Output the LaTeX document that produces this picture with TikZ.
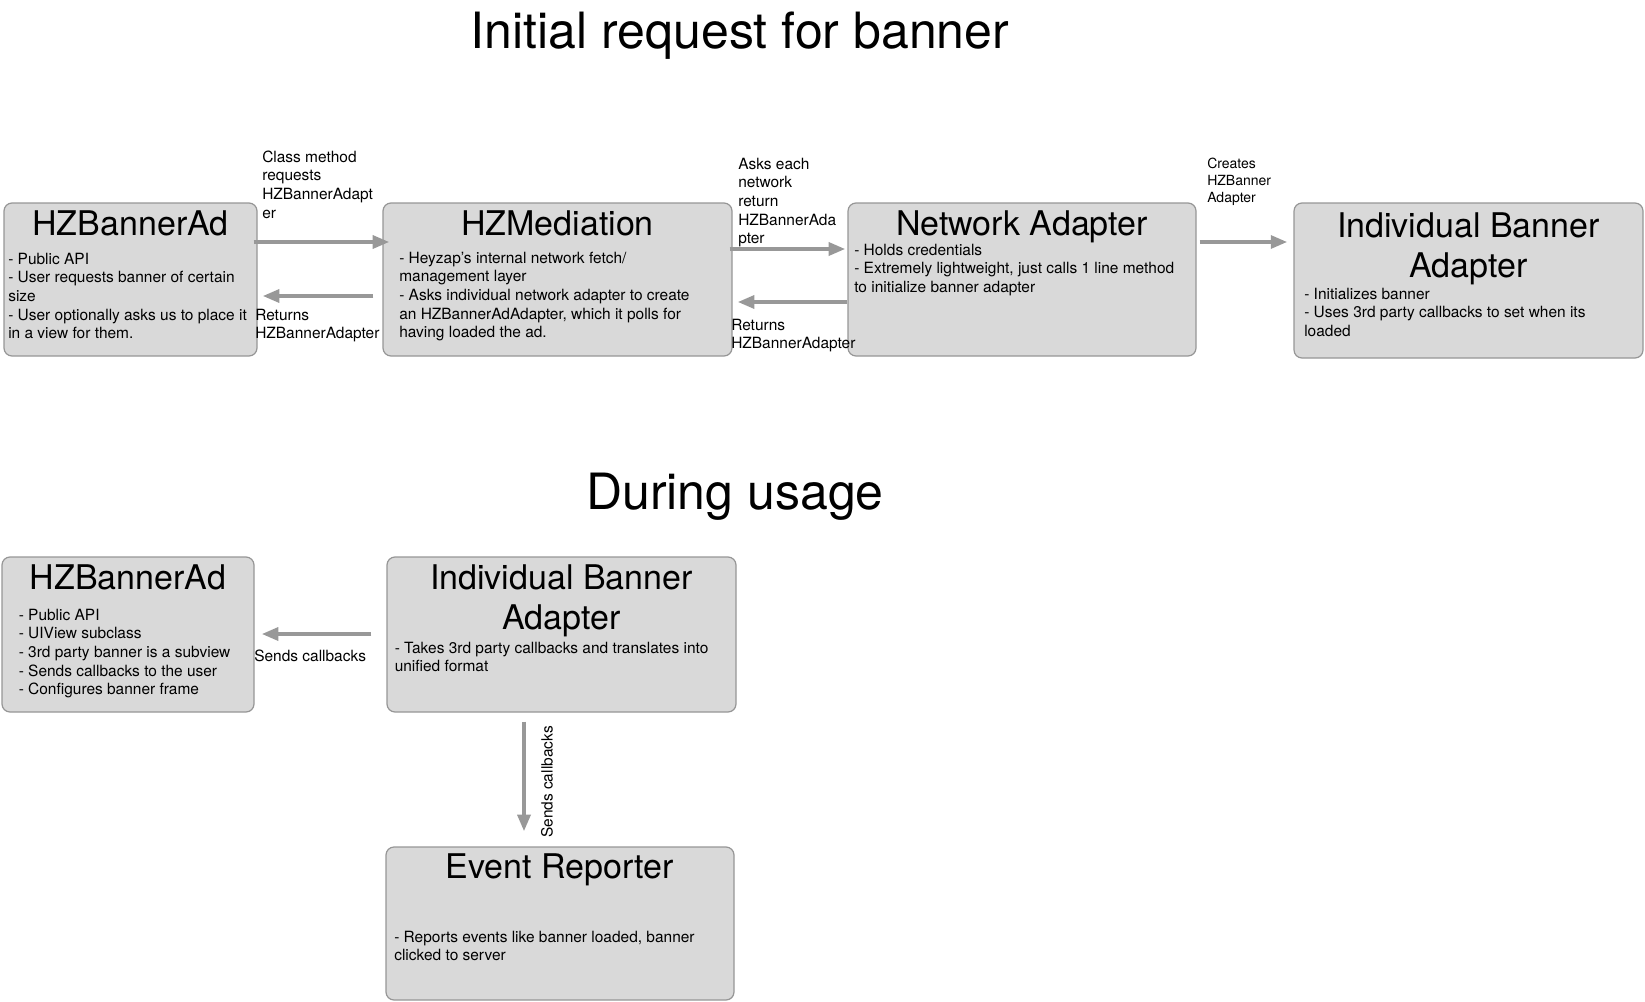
\documentclass[tikz,border=0pt]{standalone}
\usepackage{fontspec}
\setmainfont{TeX Gyre Heros}
\usetikzlibrary{arrows.meta,fit}
\definecolor{boxfill}{RGB}{217,217,217}
\definecolor{boxline}{RGB}{150,150,150}
\definecolor{arrowgray}{RGB}{152,152,152}
\newcommand\fstrut{\rule{0pt}{10pt}}
\newcommand\tstrut{\rule{0pt}{20pt}}
\begin{document}
\begin{tikzpicture}[x=0.75pt,y=-0.75pt,
  box/.style={draw=boxline, fill=boxfill, line width=0.9pt, rounded corners=6pt, inner sep=0pt},
  boxtitle/.style={font=\fontsize{25.5}{30.5}\selectfont, inner sep=0pt, align=center},
  bodytext/.style={font=\fontsize{11.6}{13.95}\selectfont, inner sep=0pt, align=left, anchor=north west},
  smalllbl/.style={font=\fontsize{10.5}{12.75}\selectfont, inner sep=0pt, align=left, anchor=north west},
  bigtitle/.style={font=\fontsize{37.5}{45}\selectfont, inner sep=0pt, anchor=base},
  arr/.style={draw=arrowgray, line width=3pt, -{Triangle[length=12.5pt,width=9.5pt]}},
]
\useasboundingbox (0,0) rectangle (1645,1002);

% titles
\node[bigtitle] (t1) at (740,49) {Initial request for banner};
\node[bigtitle] (t2) at (735,509) {During usage};

% boxes
\node[box, fit={(4,203) (257,356)}] (b1) {};
\node[box, fit={(383,203) (732,356)}] (b2) {};
\node[box, fit={(848,203) (1196,356)}] (b3) {};
\node[box, fit={(1294,203) (1643,358)}] (b4) {};
\node[box, fit={(2,557) (254,712)}] (c1) {};
\node[box, fit={(387,557) (736,712)}] (c2) {};
\node[box, fit={(386,847) (734,1000)}] (c3) {};

% box titles
\node[boxtitle, anchor=base] (b1t) at (130.5,235.5) {HZBannerAd};
\node[boxtitle, anchor=base] (b2t) at (557.5,235.5) {HZMediation};
\node[boxtitle, anchor=base] (b3t) at (1022,235.5) {Network Adapter};
\node[boxtitle, anchor=north] (b4t) at (1468.5,210.3) {\tstrut Individual Banner\\Adapter};
\node[boxtitle, anchor=base] (c1t) at (128,589.5) {HZBannerAd};
\node[boxtitle, anchor=north] (c2t) at (561.5,562.3) {\tstrut Individual Banner\\Adapter};
\node[boxtitle, anchor=base] (c3t) at (560,878.5) {Event Reporter};

% box bodies
\node[bodytext] (b1b) at (8,250.7) {\fstrut- Public API\\- User requests banner of certain\\size\\- User optionally asks us to place it\\in a view for them.};
\node[bodytext] (b2b) at (399,249.7) {\fstrut- Heyzap’s internal network fetch/\\management layer\\- Asks individual network adapter to create\\an HZBannerAdAdapter, which it polls for\\having loaded the ad.};
\node[bodytext] (b3b) at (854,241.7) {\fstrut- Holds credentials\\- Extremely lightweight, just calls 1 line method\\to initialize banner adapter};
\node[bodytext] (b4b) at (1304,285.7) {\fstrut- Initializes banner\\- Uses 3rd party callbacks to set when its\\loaded};
\node[bodytext] (c1b) at (18.5,606.7) {\fstrut- Public API\\- UIView subclass\\- 3rd party banner is a subview\\- Sends callbacks to the user\\- Configures banner frame};
\node[bodytext] (c2b) at (394.5,639.7) {\fstrut- Takes 3rd party callbacks and translates into\\unified format};
\node[bodytext] (c3b) at (394,928.7) {\fstrut- Reports events like banner loaded, banner\\clicked to server};

% connectors
\draw[arr] ([shift={(-4,-37.5)}]b1.east) -- ([shift={(7,-37.5)}]b2.west);
\draw[arr] ([shift={(-9,16.5)}]b2.west) -- ([shift={(5,16.5)}]b1.east);
\draw[arr] ([shift={(-3,-30.5)}]b2.east) -- ([shift={(-2,-30.5)}]b3.west);
\draw[arr] ([shift={(0,22.5)}]b3.west) -- ([shift={(5,22.5)}]b2.east);
\draw[arr] ([shift={(3,-37.5)}]b3.east) -- ([shift={(-6,-38.5)}]b4.west);
\draw[arr] ([shift={(-15,-0.5)}]c2.west) -- ([shift={(7,-0.5)}]c1.east);
\draw[arr] ([shift={(-37.5,9)}]c2.south) -- ([shift={(-36,-15)}]c3.north);

% connector labels
\node[bodytext] (l1) at (262,148.7) {\fstrut Class method\\requests\\HZBannerAdapt\\er};
\node[bodytext] (l2) at (255,306.7) {\fstrut Returns\\HZBannerAdapter};
\node[bodytext] (l3) at (738,155.7) {\fstrut Asks each\\network\\return\\HZBannerAda\\pter};
\node[bodytext] (l4) at (731,316.7) {\fstrut Returns\\HZBannerAdapter};
\node[smalllbl] (l5) at (1207,154.7) {\fstrut Creates\\HZBanner\\Adapter};
\node[font=\fontsize{11.6}{13.95}\selectfont, inner sep=0pt, anchor=base west] (l6) at (254,661) {Sends callbacks};
\node[font=\fontsize{11.6}{13.95}\selectfont, inner sep=0pt, rotate=90] (l7) at (547,782) {Sends callbacks};
\end{tikzpicture}
\end{document}
